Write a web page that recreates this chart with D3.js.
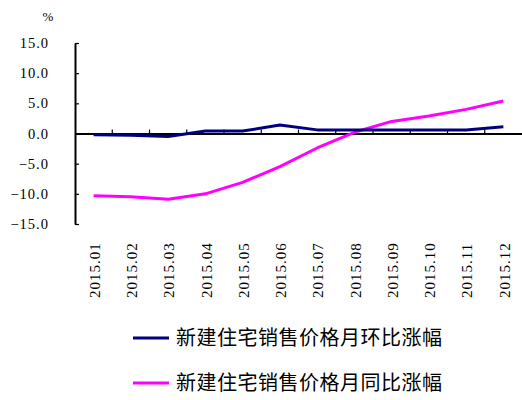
<!DOCTYPE html>
<html>
<head>
<meta charset="utf-8">
<script src="https://cdn.jsdelivr.net/npm/d3@7"></script>
<style>
  body { margin: 0; background: #fff; }
  svg { display: block; }
</style>
</head>
<body>
<div id="chart"></div>
<script>
// Données
const months = ["2015.01", "2015.02", "2015.03", "2015.04", "2015.05", "2015.06",
                "2015.07", "2015.08", "2015.09", "2015.10", "2015.11", "2015.12"];
const momValues = [-0.2, -0.3, -0.5, 0.4, 0.4, 1.4, 0.6, 0.6, 0.6, 0.6, 0.6, 1.1];
const yoyValues = [-10.3, -10.5, -10.9, -10.0, -8.1, -5.5, -2.4, 0.2, 2.0, 2.9, 4.0, 5.4];
const yTicks = [-15, -10, -5, 0, 5, 10, 15];
const seriesNames = ["新建住宅销售价格月环比涨幅", "新建住宅销售价格月同比涨幅"];

const width = 522, height = 400;
const numFont = "'Liberation Serif', 'DejaVu Serif', serif";
const cjkFont = "'Noto Sans CJK SC', sans-serif";

const svg = d3.select("#chart")
    .append("svg")
    .attr("width", width)
    .attr("height", height);

// Échelles
const x = d3.scaleBand()
    .domain(months)
    .range([75, 522])
    .padding(0);

const y = d3.scaleLinear()
    .domain([-15, 15])
    .range([224, 43]);

const y0 = y(0);

// Axe Y
const yAxis = svg.append("g")
    .attr("transform", "translate(75,0)")
    .call(d3.axisLeft(y)
        .tickValues(yTicks)
        .tickSizeInner(-4)
        .tickSizeOuter(0)
        .tickPadding(26)
        .tickFormat(d => d3.format(".1f")(d).replace("-", "−")));

yAxis.select(".domain").attr("stroke", "#000").attr("stroke-width", 2);
yAxis.selectAll(".tick line").attr("stroke", "#000").attr("stroke-width", 1.2);
yAxis.selectAll(".tick text")
    .attr("font-family", numFont)
    .attr("font-size", "14.5px")
    .attr("letter-spacing", "1px")
    .attr("fill", "#000");

// Axe X (sur la ligne zéro)
const xAxis = svg.append("g")
    .attr("transform", `translate(0,${y0})`)
    .call(d3.axisBottom(x).tickSize(0).tickFormat(""));

xAxis.select(".domain").attr("stroke", "#000").attr("stroke-width", 2);

// Graduations entre les catégories
svg.selectAll(".xtick")
    .data(months.slice(1))
    .enter()
    .append("line")
    .attr("class", "xtick")
    .attr("x1", d => x(d))
    .attr("x2", d => x(d))
    .attr("y1", y0 - 4)
    .attr("y2", y0)
    .attr("stroke", "#000")
    .attr("stroke-width", 1.2);

// Étiquettes verticales des mois
svg.selectAll(".xlabel")
    .data(months)
    .enter()
    .append("text")
    .attr("class", "xlabel")
    .attr("transform", d => `translate(${x(d) + x.bandwidth() / 2 + 1},298) rotate(-90)`)
    .attr("dy", "0.35em")
    .attr("text-anchor", "start")
    .attr("font-family", numFont)
    .attr("font-size", "15px")
    .attr("letter-spacing", "1px")
    .attr("fill", "#000")
    .text(d => d);

// Unité
svg.append("text")
    .attr("x", 48)
    .attr("y", 21)
    .attr("text-anchor", "middle")
    .attr("font-family", numFont)
    .attr("font-size", "13px")
    .attr("fill", "#000")
    .text("%");

// Courbes
const line = d3.line()
    .x((d, i) => x(months[i]) + x.bandwidth() / 2)
    .y(d => y(d));

svg.append("path")
    .datum(yoyValues)
    .attr("fill", "none")
    .attr("stroke", "#FF00FF")
    .attr("stroke-width", 3)
    .attr("stroke-linejoin", "round")
    .attr("d", line);

svg.append("path")
    .datum(momValues)
    .attr("fill", "none")
    .attr("stroke", "#000080")
    .attr("stroke-width", 3)
    .attr("stroke-linejoin", "round")
    .attr("d", line);

// Légende
const legendColors = ["#000080", "#FF00FF"];
const legend = svg.selectAll(".legend")
    .data(seriesNames)
    .enter()
    .append("g")
    .attr("class", "legend")
    .attr("transform", (d, i) => `translate(133,${338 + i * 45})`);

legend.append("line")
    .attr("x1", 0)
    .attr("x2", 36)
    .attr("y1", 0)
    .attr("y2", 0)
    .attr("stroke", (d, i) => legendColors[i])
    .attr("stroke-width", 3);

legend.append("text")
    .attr("x", 43)
    .attr("y", 0)
    .attr("dy", "0.36em")
    .attr("font-family", cjkFont)
    .attr("font-size", "20px")
    .attr("letter-spacing", "0.5px")
    .attr("fill", "#000")
    .text(d => d);
</script>
</body>
</html>
